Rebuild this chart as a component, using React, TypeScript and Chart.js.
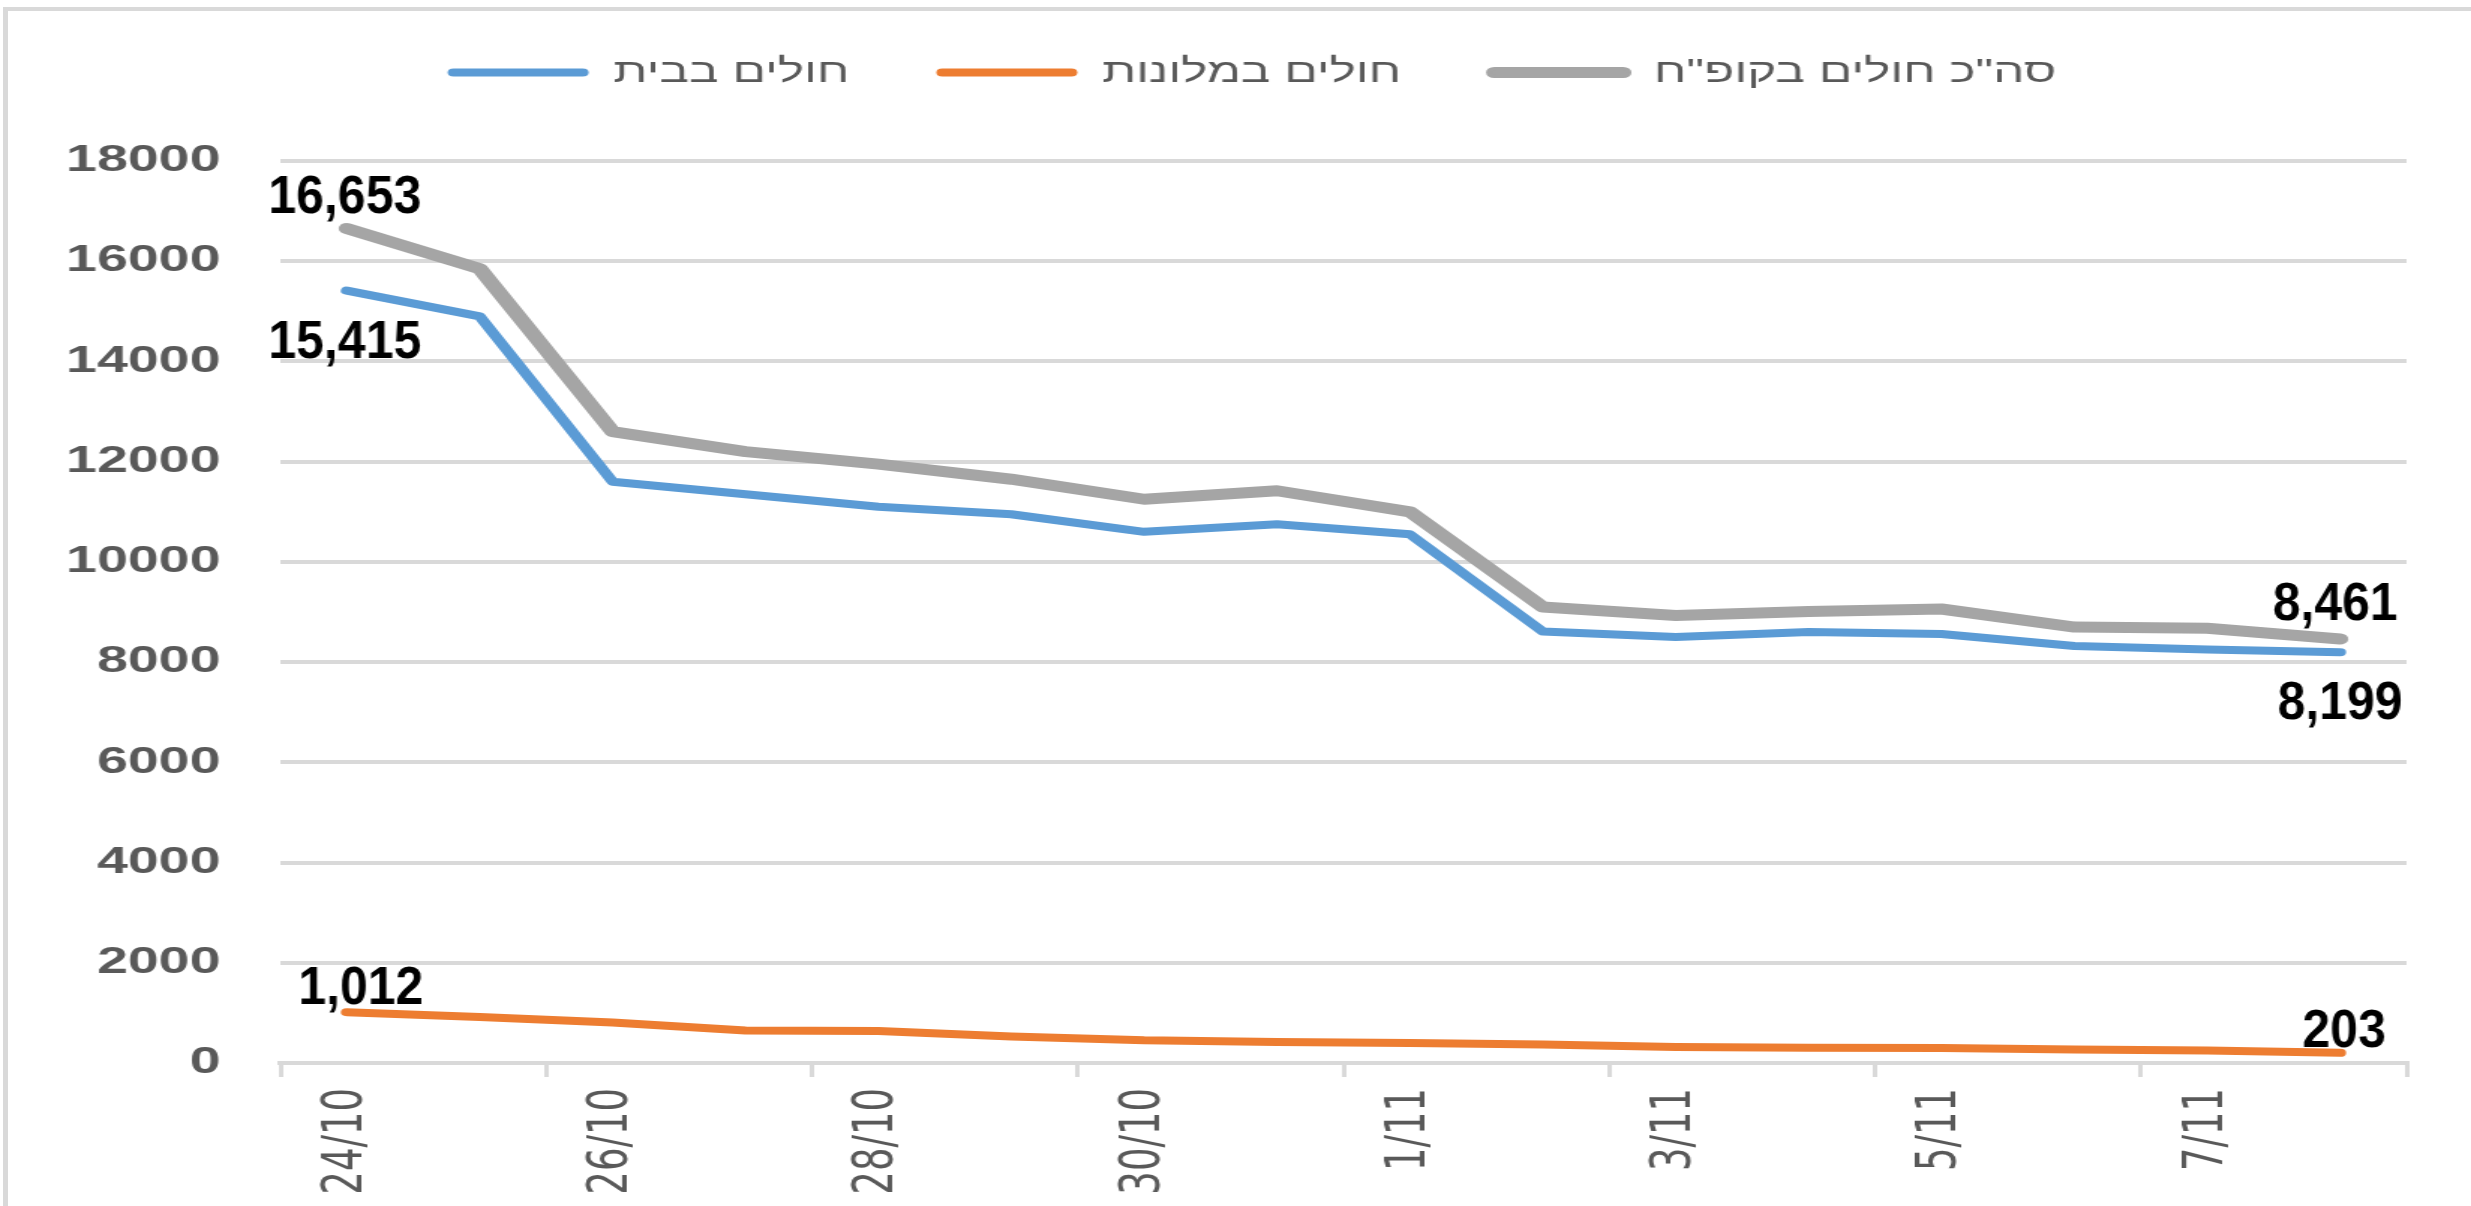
import { useEffect, useRef } from 'react';
import { Chart, registerables } from 'chart.js';

Chart.register(...registerables);

// ---- data ----
const categories = [
  '24/10', '25/10', '26/10', '27/10', '28/10', '29/10', '30/10', '31/10',
  '1/11', '2/11', '3/11', '4/11', '5/11', '6/11', '7/11', '8/11',
];
const homePatients = [15415, 14900, 11600, 11350, 11100, 10950, 10600, 10750, 10550, 8610, 8500, 8600, 8560, 8320, 8250, 8199];
const hotelPatients = [1012, 920, 810, 650, 640, 530, 455, 420, 400, 370, 320, 305, 300, 270, 250, 203];
const totalPatients = [16653, 15850, 12600, 12200, 11950, 11650, 11250, 11420, 11000, 9100, 8930, 9010, 9060, 8700, 8675, 8461];
const seriesNames = ['חולים בבית', 'חולים במלונות', 'סה"כ חולים בקופ"ח'];
const seriesColors = ['#5B9BD5', '#ED7D31', '#A5A5A5'];
const yMin = 0;
const yMax = 18000;
const yStep = 2000;

// ---- geometry ----
const W = 2471;
const H = 1206;
const INNER_W = 1648;
const SX = W / INNER_W;

const endLabels = [
  { ds: 2, idx: 0, dx: -2, dy: -30 },
  { ds: 0, idx: 0, dx: -2, dy: 53 },
  { ds: 1, idx: 0, dx: 14, dy: -23 },
  { ds: 2, idx: 15, dx: -5, dy: -34 },
  { ds: 0, idx: 15, dx: 0, dy: 52 },
  { ds: 1, idx: 15, dx: 4, dy: -21 },
];

const labelPlugin = {
  id: 'endLabels',
  afterDatasetsDraw(chart: any) {
    const ctx = chart.ctx;
    ctx.save();
    ctx.font = 'bold 50px "Liberation Sans", Arial, sans-serif';
    ctx.fillStyle = '#000000';
    ctx.textAlign = 'center';
    ctx.textBaseline = 'middle';
    for (const l of endLabels) {
      const meta = chart.getDatasetMeta(l.ds);
      const pt = meta.data[l.idx];
      if (!pt) continue;
      const v = chart.data.datasets[l.ds].data[l.idx];
      ctx.save();
      ctx.translate(pt.x + l.dx / SX, pt.y + l.dy);
      ctx.scale(1 / SX, 1.07);
      ctx.fillText(Number(v).toLocaleString('en-US'), 0, 0);
      ctx.restore();
    }
    ctx.restore();
  },
};

export default function App() {
  const ref = useRef<HTMLCanvasElement | null>(null);

  useEffect(() => {
    if (!ref.current) return;
    const mk = (i: number, data: number[], width: number) => ({
      label: seriesNames[i],
      data,
      borderColor: seriesColors[i],
      backgroundColor: seriesColors[i],
      borderWidth: width,
      pointRadius: 0,
      pointHoverRadius: 0,
      tension: 0,
      borderCapStyle: 'round' as const,
      borderJoinStyle: 'round' as const,
      fill: false,
    });
    const chart = new Chart(ref.current, {
      type: 'line',
      data: {
        labels: categories,
        datasets: [mk(0, homePatients, 8), mk(1, hotelPatients, 8), mk(2, totalPatients, 11)],
      },
      plugins: [labelPlugin],
      options: {
        animation: false,
        responsive: false,
        maintainAspectRatio: false,
        devicePixelRatio: 1,
        layout: { padding: { top: -2, left: 30, right: 8, bottom: 10 } },
        plugins: {
          tooltip: { enabled: false },
          title: {
            display: true,
            text: '',
            weight: 500,
            padding: 0,
            font: { size: 62, lineHeight: 1 },
          } as any,
          legend: {
            position: 'top',
            align: 'center',
            labels: {
              boxWidth: 94,
              boxHeight: 8,
              padding: 58,
              color: '#595959',
              font: { family: '"Liberation Sans", Arial, sans-serif', size: 33 },
              useBorderRadius: true,
              borderRadius: 4,
              generateLabels: (c: any) => {
                const items = (Chart.defaults.plugins.legend.labels as any).generateLabels(c);
                return items.map((it: any, i: number) => ({
                  ...it,
                  fillStyle: seriesColors[i],
                  strokeStyle: seriesColors[i],
                  lineWidth: i === 2 ? 3 : 0,
                  borderRadius: 4,
                  lineJoin: 'round',
                }));
              },
            },
          },
        },
        scales: {
          x: {
            type: 'category',
            offset: true,
            afterFit: (s: any) => {
              s.height = 133;
              s.paddingRight = 43;
              s.paddingLeft = 0;
            },
            grid: {
              display: true,
              offset: true,
              drawOnChartArea: false,
              drawTicks: true,
              tickLength: 14,
              lineWidth: 3,
              color: (ctx: any) =>
                ctx.index === undefined || ctx.index % 2 === 0 ? '#D9D9D9' : 'rgba(0,0,0,0)',
            },
            border: { display: true, color: '#D9D9D9', width: 4 },
            ticks: {
              autoSkip: false,
              maxRotation: 90,
              minRotation: 90,
              padding: 11,
              color: '#595959',
              font: { family: '"DejaVu Sans", Verdana, sans-serif', size: 37 },
              callback: (_v: any, i: number) => (i % 2 === 0 ? categories[i] : ''),
            },
          },
          y: {
            min: yMin,
            max: yMax,
            afterFit: (s: any) => {
              s.width = 157;
            },
            grid: {
              color: '#D9D9D9',
              lineWidth: 4,
              drawTicks: false,
            },
            border: { display: false },
            ticks: {
              stepSize: yStep,
              padding: 40,
              color: '#595959',
              font: { family: '"Liberation Sans", Arial, sans-serif', size: 37, weight: 'bold' },
              callback: (v: any) => String(v),
            },
          },
        },
      },
    });
    return () => chart.destroy();
  }, []);

  return (
    <div style={{ position: 'fixed', left: 0, top: 0, width: W, height: H, background: '#ffffff', overflow: 'hidden' }}>
      <div
        style={{
          position: 'absolute',
          left: 3,
          top: 7,
          width: W,
          height: H,
          borderLeft: '5px solid #D9D9D9',
          borderTop: '4px solid #D9D9D9',
        }}
      />
      <canvas
        ref={ref}
        width={INNER_W}
        height={H}
        style={{ position: 'absolute', left: 0, top: 0, width: W + 'px', height: H + 'px', display: 'block' }}
      />
    </div>
  );
}
